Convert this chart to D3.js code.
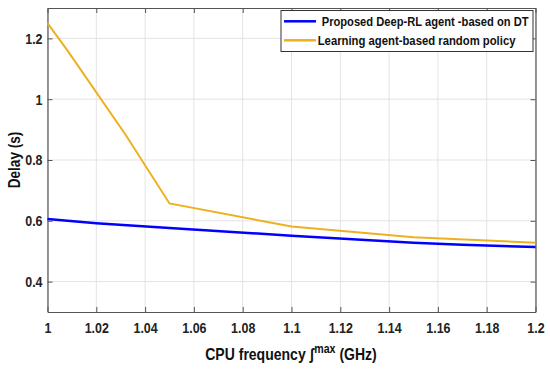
<!DOCTYPE html>
<html><head><meta charset="utf-8">
<script src="https://cdn.jsdelivr.net/npm/d3@7"></script>
<style>body{margin:0;background:#fff}</style>
</head><body><svg id="c" width="550" height="370"></svg>
<script>
const xTicks = [1, 1.02, 1.04, 1.06, 1.08, 1.1, 1.12, 1.14, 1.16, 1.18, 1.2];
const yTicks = [0.4, 0.6, 0.8, 1.0, 1.2];
const blueX = [1, 1.02, 1.05, 1.1, 1.15, 1.17, 1.2];
const blueY = [0.606, 0.592, 0.576, 0.551, 0.528, 0.521, 0.514];
const orangeX = [1, 1.008, 1.032, 1.05, 1.1, 1.15, 1.2];
const orangeY = [1.25, 1.162, 0.883, 0.657, 0.581, 0.546, 0.528];
const seriesNames = ["Proposed Deep-RL agent -based on DT", "Learning agent-based random policy"];

const m = {l: 47.5, r: 535.5, t: 8, b: 312};
const svg = d3.select("#c");
const x = d3.scaleLinear().domain([1, 1.2]).range([m.l, m.r]);
const y = d3.scaleLinear().domain([0.3, 1.3]).range([m.b, m.t]);
const font = "'Liberation Sans', Arial, sans-serif";
const K = 0.83; // horizontal condensing

function condense(sel, k) {
  sel.each(function() {
    const t = d3.select(this);
    const ax = +t.attr("x") || 0;
    const prev = t.attr("transform") || "";
    t.attr("transform", `${prev} translate(${ax},0) scale(${k},1) translate(${-ax},0)`);
  });
}

// grid
const g = svg.append("g");
g.selectAll(".gx").data(xTicks).join("line")
  .attr("x1", d => x(d)).attr("x2", d => x(d)).attr("y1", m.t).attr("y2", m.b)
  .attr("stroke", "#e3e3e3").attr("stroke-width", 1);
g.selectAll(".gy").data(yTicks).join("line")
  .attr("y1", d => y(d)).attr("y2", d => y(d)).attr("x1", m.l).attr("x2", m.r)
  .attr("stroke", "#e3e3e3").attr("stroke-width", 1);

// axes
const fmt = d => d3.format("~g")(d);
const ax = svg.append("g").attr("transform", `translate(0,${m.b})`)
  .call(d3.axisBottom(x).tickValues(xTicks).tickFormat(fmt).tickSizeInner(-5).tickSizeOuter(0).tickPadding(12));
const axT = svg.append("g").attr("transform", `translate(0,${m.t})`)
  .call(d3.axisTop(x).tickValues(xTicks).tickFormat("").tickSizeInner(-5).tickSizeOuter(0));
const ay = svg.append("g").attr("transform", `translate(${m.l},0)`)
  .call(d3.axisLeft(y).tickValues(yTicks).tickFormat(fmt).tickSizeInner(-5).tickSizeOuter(0).tickPadding(5));
const ayR = svg.append("g").attr("transform", `translate(${m.r},0)`)
  .call(d3.axisRight(y).tickValues(yTicks).tickFormat("").tickSizeInner(-5).tickSizeOuter(0));
[ax, axT, ay, ayR].forEach(a => {
  a.selectAll("path").attr("stroke", "#555").attr("stroke-width", 1.2);
  a.selectAll("line").attr("stroke", "#555").attr("stroke-width", 1);
  a.selectAll("text").attr("fill", "#222").attr("font-family", font)
    .attr("font-size", 15).attr("font-weight", "bold");
});
ax.selectAll("text").attr("dy", "0.6em");
condense(ax.selectAll("text"), K);
condense(ay.selectAll("text"), K);

// lines
const line = d3.line().x(d => x(d[0])).y(d => y(d[1]));
svg.append("path").datum(orangeX.map((v, i) => [v, orangeY[i]]))
  .attr("d", line).attr("fill", "none").attr("stroke", "#EDB120").attr("stroke-width", 2);
svg.append("path").datum(blueX.map((v, i) => [v, blueY[i]]))
  .attr("d", line).attr("fill", "none").attr("stroke", "#0000FF").attr("stroke-width", 2.5);

// legend
const lg = svg.append("g");
lg.append("rect").attr("x", 281).attr("y", 10.5).attr("width", 252).attr("height", 41)
  .attr("fill", "#fff").attr("stroke", "#333").attr("stroke-width", 1);
const lc = ["#0000FF", "#EDB120"];
const ly = [21.3, 40.3];
const lx = [321.7, 317.7];
const lw = [207, 198];
seriesNames.forEach((n, i) => {
  lg.append("line").attr("x1", 284).attr("x2", 316).attr("y1", ly[i]).attr("y2", ly[i])
    .attr("stroke", lc[i]).attr("stroke-width", 2.5);
  const t = lg.append("text").attr("x", lx[i]).attr("y", ly[i]).attr("dy", "0.36em")
    .attr("font-family", font).attr("font-size", 13).attr("font-weight", "bold")
    .attr("fill", "#111").text(n);
  const w = t.node().getComputedTextLength();
  condense(t, lw[i] / w);
});

// axis titles
const xt = svg.append("text").attr("x", 291).attr("y", 360).attr("text-anchor", "middle")
  .attr("font-family", font).attr("font-size", 16.5).attr("font-weight", "bold").attr("fill", "#111");
xt.append("tspan").text("CPU frequency ʃ");
xt.append("tspan").attr("dy", -7).attr("font-size", 12.5).text("max");
xt.append("tspan").attr("dy", 7).text(" (GHz)");
condense(xt, 0.85);
const yt = svg.append("text").attr("x", 0).attr("y", 0).attr("text-anchor", "middle")
  .attr("font-family", font).attr("font-size", 16).attr("font-weight", "bold").attr("fill", "#111")
  .text("Delay (s)");
yt.attr("transform", "translate(20,160) rotate(-90) scale(0.85,1)");
</script></body></html>
